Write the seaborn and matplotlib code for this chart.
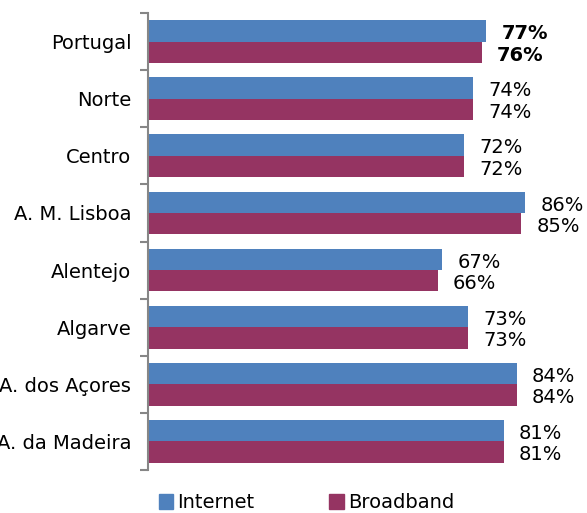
import matplotlib
matplotlib.use("Agg")
import matplotlib.pyplot as plt
import matplotlib.patches as mpatches
import seaborn as sns
import pandas as pd

regions = ["Portugal", "Norte", "Centro", "A. M. Lisboa", "Alentejo",
           "Algarve", "A. dos Açores", "A. da Madeira"]
internet = [77, 74, 72, 86, 67, 73, 84, 81]
broadband = [76, 74, 72, 85, 66, 73, 84, 81]
series = ["Internet", "Broadband"]
colors = ["#4F81BD", "#953462"]

df = pd.DataFrame({
    "region": regions * 2,
    "value": internet + broadband,
    "series": ["Internet"] * len(regions) + ["Broadband"] * len(regions),
})

sns.set_style("white")
plt.rcParams["font.family"] = ["DejaVu Sans"]
plt.rcParams["text.color"] = "black"
plt.rcParams["ytick.color"] = "black"

fig = plt.figure(figsize=(5.87, 5.13), dpi=100)
ax = fig.add_axes([148 / 587, 1 - 470 / 513, 417 / 587, 457 / 513])

sns.barplot(data=df, x="value", y="region", hue="series", order=regions,
            hue_order=series, palette=colors, orient="h", width=0.75,
            saturation=1, legend=False, ax=ax, edgecolor="none")

ax.set_xlim(0, 95)
ax.set_ylim(len(regions) - 0.5, -0.5)
ax.set_xlabel("")
ax.set_ylabel("")
ax.set_xticks([])

# value labels
for i, (a, b) in enumerate(zip(internet, broadband)):
    w = "bold" if i == 0 else "normal"
    ax.annotate(f"{a}%", (a, i - 0.1875), xytext=(11, -2), textcoords="offset points",
                ha="left", va="center", fontsize=14, fontweight=w, color="black")
    ax.annotate(f"{b}%", (b, i + 0.1875), xytext=(11, -2), textcoords="offset points",
                ha="left", va="center", fontsize=14, fontweight=w, color="black")

for s in ["top", "right", "bottom"]:
    ax.spines[s].set_visible(False)
ax.spines["left"].set_color("#868686")
ax.spines["left"].set_linewidth(1.5)

ax.set_yticks([i - 0.5 for i in range(len(regions) + 1)], minor=True)
ax.tick_params(axis="y", which="minor", length=6, width=1.5, color="#868686", left=True)
ax.tick_params(axis="y", which="major", length=0, pad=12, labelsize=14, labelcolor="black")

handles = [mpatches.Patch(color=c, label=s) for c, s in zip(colors, series)]
fig.legend(handles=handles, loc="center", bbox_to_anchor=(0.522, 0.02), ncol=2,
           frameon=False, fontsize=14, handlelength=0.75, handleheight=0.75,
           handletextpad=0.2, columnspacing=3.85)

fig.savefig("out.png", dpi=100)
